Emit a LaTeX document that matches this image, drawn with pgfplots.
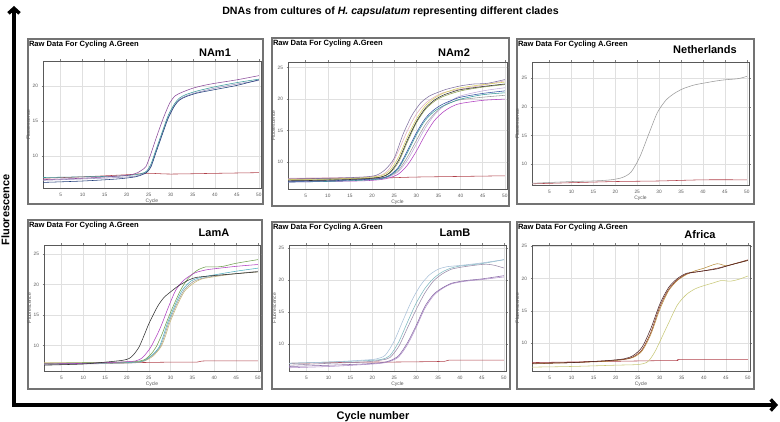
\documentclass[border=0pt]{standalone}
\usepackage{fontspec}
\setmainfont{Liberation Sans}
\usepackage{pgfplots}
\pgfplotsset{compat=1.18}
\usetikzlibrary{arrows.meta}
\definecolor{cred}{HTML}{B0404A}
\definecolor{cpurple}{HTML}{8A4A9A}
\definecolor{cnavy}{HTML}{1E3C78}
\definecolor{cteal}{HTML}{3A9A9A}
\definecolor{clav}{HTML}{9A90C0}
\definecolor{cgray}{HTML}{9A9A9A}
\definecolor{cyel}{HTML}{D8D060}
\definecolor{cblack}{HTML}{303030}
\definecolor{cpink}{HTML}{E0B0C0}
\definecolor{colive}{HTML}{90A050}
\definecolor{cblue}{HTML}{3050A0}
\definecolor{cmag}{HTML}{B040C0}
\definecolor{cvio}{HTML}{C0A8D8}
\definecolor{ctop}{HTML}{8070A0}
\definecolor{cgreen}{HTML}{70A050}
\definecolor{ccyan}{HTML}{50B0C0}
\definecolor{ctan}{HTML}{C8B878}
\definecolor{clblue}{HTML}{A8C0D8}
\definecolor{cbteal}{HTML}{7FB8C0}
\definecolor{cgpur}{HTML}{9A8AA8}
\definecolor{cpur2}{HTML}{8A6AA8}
\definecolor{cpur3}{HTML}{B090C8}
\definecolor{cbrown}{HTML}{8A3A20}
\definecolor{cmaroon}{HTML}{502828}
\definecolor{cgold}{HTML}{B89040}
\definecolor{cyg}{HTML}{C8C878}
\pgfplotsset{qpcr/.style={scale only axis, xmin=1, xmax=50.5,
  xtick={5,10,...,50}, ytick={10,15,20,25},
  grid=major, major grid style={draw=black!12, line width=0.4pt},
  axis line style={draw=black!65, line width=0.7pt},
  tick style={draw=black!50, line width=0.4pt}, major tick length=1.5pt, tick align=outside,
  tick label style={font=\fontsize{4.8}{5}\selectfont, text=black!65},
  xlabel={Cycle}, ylabel={Fluorescence},
  label style={font=\fontsize{5}{5}\selectfont, text=black!65},
  xlabel style={yshift=4pt}, ylabel style={yshift=-4.5pt},
  /pgf/number format/assume math mode=true,
  no markers, every axis plot/.append style={line width=0.55pt, smooth, tension=0.45}}}
\begin{document}
\begin{tikzpicture}[x=1pt,y=1pt]
\path[use as bounding box] (0,0) rectangle (780,422);
% frames
\draw[black!55, line width=1.2pt] (28,218) rectangle (263,383);
\draw[black!55, line width=1.2pt] (272,216) rectangle (509,384);
\draw[black!55, line width=1.2pt] (517,218) rectangle (754,383);
\draw[black!55, line width=1.2pt] (28,33) rectangle (262,202);
\draw[black!55, line width=1.2pt] (272,33) rectangle (510,200);
\draw[black!55, line width=1.2pt] (517,33) rectangle (754,200);
% Panel 1 NAm1
\begin{axis}[qpcr, at={(43pt,234pt)}, anchor=south west, width=218pt, height=127pt, ymin=5.4, ymax=23.6]
\addplot[cred] coordinates {(1,6.8)(10,7.0)(20,7.3)(25,7.5)(30,7.4)(40,7.5)(50,7.6)};
\addplot[clav] coordinates {(1,6.5)(10,6.7)(18,6.9)(22,7.1)(23.5,7.4)(24.5,7.7)(25.5,8.6)(26.5,10.4)(27.5,12.2)(28.5,14.0)(29.5,15.7)(30.9,17.3)(32,18.1)(33.5,18.6)(36,19.1)(40,19.7)(45,20.3)(50,20.8)};
\addplot[cteal] coordinates {(1,6.9)(10,7.0)(18,7.1)(22,7.3)(23.5,7.5)(24.5,7.8)(25.5,8.8)(26.5,10.6)(27.5,12.4)(28.5,14.2)(29.5,15.9)(30.9,17.5)(32,18.3)(33.5,18.8)(36,19.3)(40,19.9)(45,20.5)(50,21.0)};
\addplot[cnavy] coordinates {(1,6.2)(10,6.4)(18,6.7)(22,7.0)(23.5,7.3)(24.5,7.6)(25.5,8.4)(26.5,10.2)(27.5,12.0)(28.5,13.8)(29.5,15.5)(30.9,17.2)(32,18.0)(33.5,18.5)(36,19.0)(40,19.5)(45,20.1)(50,20.9)};
\addplot[cpurple] coordinates {(1,6.6)(10,6.8)(18,7.1)(21,7.3)(22.5,7.6)(23.5,8.0)(24.4,8.5)(25.5,10.3)(26.5,12.2)(27.5,14.0)(28.5,15.7)(29.8,17.6)(31,18.6)(32.5,19.1)(35,19.7)(37.5,20.1)(40,20.4)(45,20.9)(50,21.5)};
\end{axis}
% Panel 2 NAm2
\begin{axis}[qpcr, at={(288pt,233pt)}, anchor=south west, width=219pt, height=127pt, ymin=5.7, ymax=25.9]
\addplot[cred] coordinates {(1,7.3)(10,7.4)(20,7.4)(25,7.5)(30,7.6)(40,7.7)(50,7.8)};
\addplot[cmag] coordinates {(1,6.8)(10,6.9)(18,7.0)(22,7.2)(24,7.5)(26,8.1)(28,9.5)(30,11.7)(32,14.3)(34,16.5)(36,17.9)(38,18.8)(40,19.3)(45,19.8)(50,20.0)};
\addplot[cgray] coordinates {(1,7.2)(10,7.3)(18,7.4)(22,7.5)(24,7.8)(26,8.7)(28,10.8)(30,13.4)(32,15.9)(34,17.6)(36,18.8)(38,19.5)(40,19.9)(45,20.3)(50,20.6)};
\addplot[cvio] coordinates {(1,7.0)(10,7.1)(18,7.2)(22,7.4)(24,7.7)(26,8.5)(28,10.3)(30,12.8)(32,15.4)(34,17.4)(36,18.8)(38,19.8)(40,20.5)(45,21.3)(50,21.8)};
\addplot[cteal] coordinates {(1,6.8)(10,6.9)(18,7.1)(22,7.3)(24,7.8)(26,9.0)(28,11.5)(30,14.3)(32,16.6)(34,18.0)(36,18.9)(38,19.5)(40,20.0)(45,20.7)(50,21.0)};
\addplot[cblue] coordinates {(1,6.9)(10,7.0)(18,7.2)(22,7.4)(24,7.9)(26,9.2)(28,11.8)(30,14.6)(32,16.9)(34,18.3)(36,19.2)(38,19.8)(40,20.3)(45,20.9)(50,21.3)};
\addplot[colive] coordinates {(1,7.1)(10,7.2)(18,7.4)(22,7.6)(24,8.2)(26,10.0)(28,13.2)(30,16.2)(32,18.3)(34,19.6)(36,20.4)(40,21.3)(45,21.9)(50,22.3)};
\addplot[cpink] coordinates {(1,7.4)(10,7.5)(18,7.6)(22,7.9)(24,9.0)(26,11.8)(28,15.0)(30,17.6)(32,19.3)(34,20.3)(36,21.0)(40,21.6)(45,22.2)(50,22.9)};
\addplot[cblack] coordinates {(1,7.0)(10,7.1)(18,7.3)(22,7.6)(24,8.3)(26,10.3)(28,13.5)(30,16.4)(32,18.5)(34,19.8)(36,20.6)(38,21.1)(40,21.5)(45,22.0)(50,22.4)};
\addplot[cyel] coordinates {(1,7.2)(10,7.3)(18,7.5)(22,7.8)(24,8.6)(26,10.8)(28,14.0)(30,16.8)(32,18.9)(34,20.1)(36,20.9)(38,21.4)(40,21.8)(45,22.3)(50,22.7)};
\addplot[ctop] coordinates {(1,7.3)(10,7.4)(18,7.6)(21,7.9)(23,8.8)(25,10.6)(27,14.4)(29,17.4)(31,19.4)(33,20.5)(35,21.1)(37,21.6)(40,22.1)(43,22.4)(46,22.5)(50,23.1)};
\end{axis}
% Panel 3 Netherlands
\begin{axis}[qpcr, at={(532pt,237pt)}, anchor=south west, width=217pt, height=123pt, ymin=6.4, ymax=27.8]
\addplot[cred] coordinates {(1,6.6)(10,6.8)(20,7.0)(30,7.1)(40,7.3)(50,7.3)};
\addplot[cgray] coordinates {(1,6.7)(10,7.0)(15,7.1)(19,7.3)(21.6,7.7)(23.6,8.65)(25.6,11.3)(27.6,15.2)(29.6,19.0)(31.6,21.2)(33.6,22.4)(35.6,23.2)(38,23.8)(40,24.1)(43,24.5)(45,24.7)(48,24.9)(50,25.3)};
\end{axis}
% Panel 4 LamA
\begin{axis}[qpcr, at={(44pt,51pt)}, anchor=south west, width=216pt, height=126pt, ymin=5.85, ymax=26.5]
\addplot[cred] coordinates {(1,7.0)(10,7.1)(20,7.2)(30,7.3)(36,7.3)(38,7.5)(50,7.5)};
\addplot[ctan] coordinates {(1,7.2)(10,7.2)(18,7.2)(22,7.3)(24,7.5)(26,8.3)(27.8,9.8)(28.8,11.5)(29.7,13.5)(31.4,16.4)(33.2,18.9)(35.2,20.2)(37,20.9)(40,21.3)(45,21.8)(50,22.1)};
\addplot[cgray] coordinates {(1,6.9)(10,7.0)(18,7.1)(22,7.2)(24,7.5)(26,8.5)(27.6,9.8)(28.6,11.6)(29.5,13.6)(31.2,16.5)(33,19.0)(35,20.4)(37,21.0)(40,21.4)(45,21.8)(50,22.2)};
\addplot[ccyan] coordinates {(1,7.0)(10,7.1)(18,7.2)(22,7.3)(24,7.6)(26,8.6)(27.4,9.8)(28.4,11.7)(29.3,13.7)(31,16.6)(32.7,19.1)(34.7,20.6)(37,21.2)(40,21.6)(45,22.2)(50,22.7)};
\addplot[cgreen] coordinates {(1,7.1)(10,7.2)(18,7.3)(22,7.4)(24,7.7)(25.5,8.6)(26.7,9.8)(28,11.8)(29,13.7)(30.5,16.3)(32.3,19.1)(34,21.0)(36,22.3)(38,22.9)(40,22.9)(42,23.0)(45,23.5)(50,24.1)};
\addplot[cmag] coordinates {(1,7.0)(10,7.1)(18,7.3)(22,7.5)(23.5,8.0)(24.5,8.8)(25.5,9.8)(27,11.9)(28.1,13.7)(29.5,16.3)(31.2,19.1)(33,20.7)(35.5,21.9)(38,22.4)(40,22.6)(45,23.0)(50,23.3)};
\addplot[cblack] coordinates {(1,6.8)(10,7.0)(15,7.3)(19,7.6)(20.5,7.9)(21.5,8.5)(22.8,9.8)(24,11.8)(25.1,13.7)(27,16.4)(28.5,17.9)(30.5,19.1)(32,19.9)(34.3,20.8)(36,21.2)(40,21.5)(45,21.8)(50,22.1)};
\end{axis}
% Panel 5 LamB
\begin{axis}[qpcr, at={(289pt,51pt)}, anchor=south west, width=217pt, height=126pt, ymin=5.8, ymax=25.5]
\addplot[cred] coordinates {(1,7.0)(10,7.1)(20,7.2)(25,7.2)(36,7.3)(38,7.5)(50,7.5)};
\addplot[cpur3] coordinates {(1,6.3)(10,6.5)(18,6.8)(22,7.0)(24,7.3)(26,8.0)(28,9.9)(30,12.6)(32,15.6)(34,17.6)(36,18.7)(38,19.4)(40,19.7)(42,19.9)(45,20.1)(50,20.5)};
\addplot[cpur2] coordinates {(1,6.5)(10,6.7)(18,6.9)(22,7.1)(24,7.4)(26,8.2)(28,10.2)(30,12.9)(32,15.9)(34,17.8)(36,18.8)(38,19.5)(40,19.8)(42,20.0)(45,20.2)(50,20.7)};
\addplot[cgpur] coordinates {(1,6.7)(10,7.0)(18,7.2)(22,7.5)(24,7.9)(26,9.6)(28,12.5)(30,15.4)(32,18.0)(34,19.9)(36,21.0)(38,21.7)(40,22.0)(43,22.3)(46,22.5)(48,22.3)(50,21.9)};
\addplot[cbteal] coordinates {(1,7.0)(10,7.2)(18,7.4)(22,7.6)(24,8.2)(26,10.3)(28,13.4)(30,16.4)(32,18.7)(34,20.3)(36,21.3)(38,21.9)(40,22.2)(45,22.6)(50,23.2)};
\addplot[clblue] coordinates {(1,7.0)(10,7.2)(18,7.5)(21,7.7)(23,8.3)(25,10.5)(27,13.7)(29,16.8)(31,19.2)(33,20.8)(35,21.7)(37,22.1)(40,22.3)(45,22.7)(50,23.2)};
\end{axis}
% Panel 6 Africa
\begin{axis}[qpcr, at={(532pt,51pt)}, anchor=south west, width=218pt, height=126pt, ymin=5.7, ymax=25.2]
\addplot[cred] coordinates {(1,7.0)(10,7.1)(20,7.2)(30,7.3)(34,7.3)(35,7.5)(50,7.5)};
\addplot[cyg] coordinates {(1,6.3)(10,6.4)(20,6.6)(25,6.7)(27,7.0)(28,7.7)(29,8.8)(30,10.2)(32,13.1)(34,15.9)(36,17.5)(38,18.4)(40,18.9)(42,19.3)(44,19.7)(46,19.6)(48,19.9)(50,20.4)};
\addplot[cgold] coordinates {(1,6.8)(10,7.0)(18,7.2)(22,7.5)(24,7.8)(26,8.8)(28,11.4)(30,15.2)(32,18.1)(34,19.7)(36,20.6)(38,21.2)(40,21.6)(43,22.3)(45,22.0)(47,22.3)(50,22.8)};
\addplot[cbrown] coordinates {(1,6.9)(10,7.0)(18,7.3)(22,7.5)(24,7.9)(26,9.0)(28,11.7)(30,15.6)(32,18.3)(34,19.8)(36,20.7)(38,21.0)(40,21.2)(43,21.6)(46,22.1)(50,22.9)};
\addplot[cmaroon] coordinates {(1,6.9)(10,7.0)(18,7.3)(22,7.6)(24,8.1)(26,9.4)(28,12.3)(30,16.0)(32,18.6)(34,20.0)(36,20.8)(38,21.0)(40,21.2)(43,21.5)(46,22.1)(50,22.8)};
\end{axis}
% panel headings
\foreach \px/\py in {28.8/381.5, 272.8/382.5, 517.8/381.5, 28.8/200.5, 272.8/198.5, 517.8/198.5}
  \node[anchor=north west, inner sep=0pt, font=\bfseries\fontsize{7.6}{8}\selectfont] at (\px,\py) {Raw Data For Cycling A.Green};
\node[font=\bfseries\fontsize{11}{12}\selectfont] at (215,369) {NAm1};
\node[font=\bfseries\fontsize{11}{12}\selectfont] at (454,369) {NAm2};
\node[font=\bfseries\fontsize{11}{12}\selectfont] at (705,372) {Netherlands};
\node[font=\bfseries\fontsize{11}{12}\selectfont] at (214,189) {LamA};
\node[font=\bfseries\fontsize{11}{12}\selectfont] at (455,189) {LamB};
\node[font=\bfseries\fontsize{11}{12}\selectfont] at (700,187) {Africa};
% title
\node[font=\bfseries\fontsize{10.6}{12}\selectfont] at (390.5,410) {DNAs from cultures of \textit{H. capsulatum} representing different clades};
% big arrows
\draw[line width=3.5pt, -{Straight Barb[length=5pt,width=11pt]}] (14,15) -- (14,416);
\draw[line width=3.5pt, -{Straight Barb[length=5pt,width=11pt]}] (12.25,17) -- (778,17);
\node[rotate=90, anchor=base, font=\bfseries\fontsize{11}{12}\selectfont] at (9.5,212) {Fluorescence};
\node[anchor=base, font=\bfseries\fontsize{11}{12}\selectfont] at (373,2.3) {Cycle number};
\end{tikzpicture}
\end{document}
